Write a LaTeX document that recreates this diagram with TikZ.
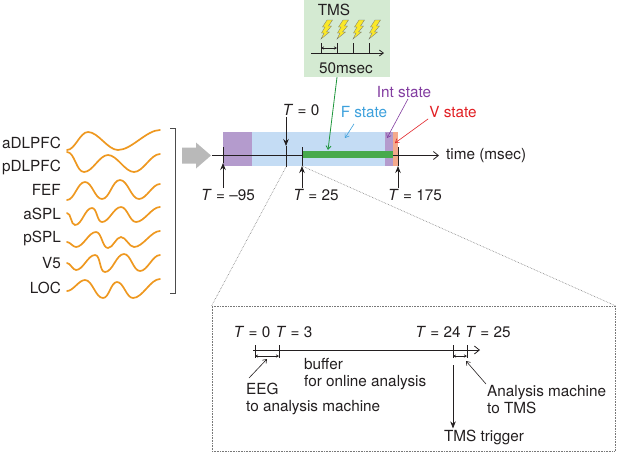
\documentclass[tikz,border=0pt]{standalone}
\usepackage{fontspec}
\setmainfont{TeX Gyre Heros}
\usetikzlibrary{arrows.meta}

\definecolor{txt}{RGB}{35,31,32}
\definecolor{wavecol}{RGB}{238,152,32}
\definecolor{tmsgreen}{RGB}{212,234,210}
\definecolor{fblue}{RGB}{196,220,244}
\definecolor{ipurple}{RGB}{180,155,205}
\definecolor{vsalmon}{RGB}{245,170,140}
\definecolor{gbar}{RGB}{72,170,76}
\definecolor{gline}{RGB}{30,150,60}
\definecolor{fcol}{RGB}{60,160,220}
\definecolor{icol}{RGB}{130,60,160}
\definecolor{vcol}{RGB}{225,30,35}
\definecolor{grayarr}{RGB}{185,185,185}
\definecolor{dotcol}{RGB}{120,120,120}
\definecolor{boltfill}{RGB}{250,232,40}

\tikzset{
    bolt/.pic={
        \filldraw[fill=boltfill, draw=black!55, line width=0.3pt] (6,0) -- (11.5,0) -- (7.5,6) -- (10.5,6) -- (5.5,12) -- (8.5,12) -- (0,19) -- (3,13) -- (0.5,13) -- (4,7) -- (1.5,7) -- cycle;
    }
}

\begin{document}
\begin{tikzpicture}[x=1pt, y=-1pt,
        every node/.style={font=\fontsize{15.3}{17.3}\selectfont, text=txt, inner sep=1pt},
        timeax/.style={line width=0.8pt, draw=txt, -{Straight Barb[length=5pt,width=8pt]}},
        tickln/.style={line width=0.8pt, draw=txt},
        tarr/.style={line width=0.8pt, draw=txt, -{Stealth[length=7pt,width=5.5pt]}},
        ptr/.style={line width=0.6pt, -{Straight Barb[length=3.5pt,width=5pt]}},
        span/.style={line width=0.5pt, draw=txt, {Stealth[length=3pt,width=3pt]}-{Stealth[length=3pt,width=3pt]}},
        wave/.style={line width=1.7pt, draw=wavecol, line cap=round},
        sw/.style={out=0, in=180, looseness=0.75},
        zoomline/.style={densely dotted, draw=dotcol, line width=0.6pt}]
        \useasboundingbox (0,0) rectangle (617,459);

        \foreach \name/\yy in {aDLPFC/143, pDLPFC/167, FEF/190, aSPL/214, pSPL/238, V5/263, LOC/288}
            \node[anchor=east] (\name) at (62,\yy) {\name};
        \draw[wave] (67,150) to[sw] (88,132) to[sw] (118,150) to[sw] (160,130);
        \draw[wave] (67,152) to[sw] (84,172) to[sw] (108,155) to[sw] (134,172) to[sw] (160,154);
        \draw[wave] (67,200) to[sw] (85,182) to[sw] (102,199) to[sw] (120,180) to[sw] (139,199) to[sw] (160,184);
        \draw[wave] (67,213) to[sw] (75,225) to[sw] (92,208) to[sw] (102,222) to[sw] (121,207) to[sw] (136,222) to[sw] (160,207);
        \draw[wave] (67,242) to[sw] (76,247) to[sw] (96,232) to[sw] (108,248) to[sw] (121,237) to[sw] (134,247) to[sw] (160,231);
        \draw[wave] (67,263) to[sw] (76,270) to[sw] (95,255) to[sw] (105,272) to[sw] (124,254) to[sw] (140,271) to[sw] (160,255);
        \draw[wave] (67,291) to[sw] (85,280) to[sw] (103,298) to[sw] (117,282) to[sw] (133,298) to[sw] (160,279);
        \draw[line width=0.8pt, draw=black!70] (170,128) -- (175,128) -- (175,293) -- (170,293);
        \fill[grayarr] (182,147.5) -- (196,147.5) -- (196,142.5) -- (211,155.5) -- (196,168.5) -- (196,163.5) -- (182,163.5) -- cycle;

        \node[fill=tmsgreen, minimum width=86pt, minimum height=77pt, inner sep=0pt] (tms) at (347,38.5) {};
        \node (tmslbl) at (334,10) {TMS};
        \node (fifty) at (346,68) {50msec};
        \foreach \t in {321,337,353,369} {
            \draw[tickln] (\t,43) -- (\t,53);
            \pic at (\t,20) {bolt};
        }
        \draw[line width=0.8pt, draw=txt, -{Straight Barb[length=4pt,width=6pt]}] (311,53) -- (384,53);
        \draw[span] (321,48) -- (337,48);

        \fill[fblue] (223,132) rectangle (398,166);
        \fill[ipurple] (223,132) rectangle (252,166);
        \fill[ipurple] (385,132) rectangle (393,166);
        \fill[vsalmon] (393,132) rectangle (398,166);
        \coordinate (ax0) at (212,155.5);
        \node[anchor=west] (tl) at (445,155.5) {time (msec)};
        \draw[timeax] (ax0) -- ([xshift=-6pt]tl.west);
        \fill[gbar] (302,150.5) rectangle (393,157.5);

        \coordinate (m95) at (223,163);
        \coordinate (z0) at (286,146);
        \coordinate (z0b) at (286,167);
        \coordinate (p25) at (302,166);
        \coordinate (p175) at (398,166);
        \node (lm95) at (228,195) {\textit{T} = –95};
        \node (lz0) at (301,110) {\textit{T} = 0};
        \node (lp25) at (316,195) {\textit{T} = 25};
        \node (lp175) at (415,195) {\textit{T} = 175};
        \draw[tickln] (m95) -- ++(0,-16);
        \draw[tarr] (lm95.north -| m95) -- (m95);
        \draw[tarr] (lz0.south -| z0) -- (z0);
        \draw[tickln] (z0) -- (z0b);
        \draw[tickln] (p25) -- ++(0,-19);
        \draw[tarr] (lp25.north -| p25) -- (p25);
        \draw[tickln] (p175) -- ++(0,-19);
        \draw[tarr] (lp175.north -| p175) -- (p175);

        \coordinate (gtip) at (328,150);
        \coordinate (ftip) at (345,138);
        \coordinate (itip) at (387,138);
        \coordinate (vtip) at (395,143);
        \node[text=fcol] (fs) at (364,112) {F state};
        \node[text=icol] (is) at (404,92) {Int state};
        \node[text=vcol] (vs) at (453,112) {V state};
        \draw[ptr, draw=gline, line width=0.8pt] ([xshift=-10pt]tms.south) -- (gtip);
        \draw[ptr, draw=fcol] ([shift={(-10pt,-5pt)}]fs.south) -- (ftip);
        \draw[ptr, draw=icol] ([xshift=4pt]is.south) -- (itip);
        \draw[ptr, draw=vcol] (vs.south west) -- (vtip);

        \node[zoomline, draw, minimum width=403pt, minimum height=145pt, inner sep=0pt] (zbox) at (413.5,378.5) {};
        \draw[zoomline] (z0b) -- (zbox.north west);
        \draw[zoomline] (p25) -- (zbox.north east);

        \coordinate (bst) at (253,350);
        \coordinate (bend) at (480,350);
        \coordinate (b0) at (255,350);
        \coordinate (b3) at (279,350);
        \coordinate (b24) at (453,350);
        \coordinate (b25) at (467,350);
        \draw[timeax] (bst) -- (bend);
        \foreach \c in {b0,b3,b24,b25}
            \draw[tickln] ([yshift=5pt]\c) -- ([yshift=-8pt]\c);
        \draw[span] ([yshift=-6pt]b0) -- ([yshift=-6pt]b3);
        \draw[span] ([yshift=-6pt]b24) -- ([yshift=-6pt]b25);
        \node (lb0) at (252,332) {\textit{T} = 0};
        \node (lb3) at (294,332) {\textit{T} = 3};
        \node (lb24) at (438,332) {\textit{T} = 24};
        \node (lb25) at (488,332) {\textit{T} = 25};
        \node[anchor=north west, align=left] (buf) at (303,357) {buffer\\for online analysis};
        \node[anchor=north west, align=left] (eeg) at (245,382) {EEG\\to analysis machine};
        \node[anchor=north west, align=left] (anm) at (486,384) {Analysis machine\\to TMS};
        \node (trig) at (484,437) {TMS trigger};
        \coordinate (eegtip) at (267,359);
        \coordinate (anmtip) at (466,361);
        \draw[ptr, draw=txt] ([shift={(4pt,4pt)}]eeg.north west) -- (eegtip);
        \draw[ptr, draw=txt] (anm.north west) -- (anmtip);
        \draw[tarr] ([yshift=-15pt]b24) -- (trig.north -| b24);
\end{tikzpicture}
\end{document}
